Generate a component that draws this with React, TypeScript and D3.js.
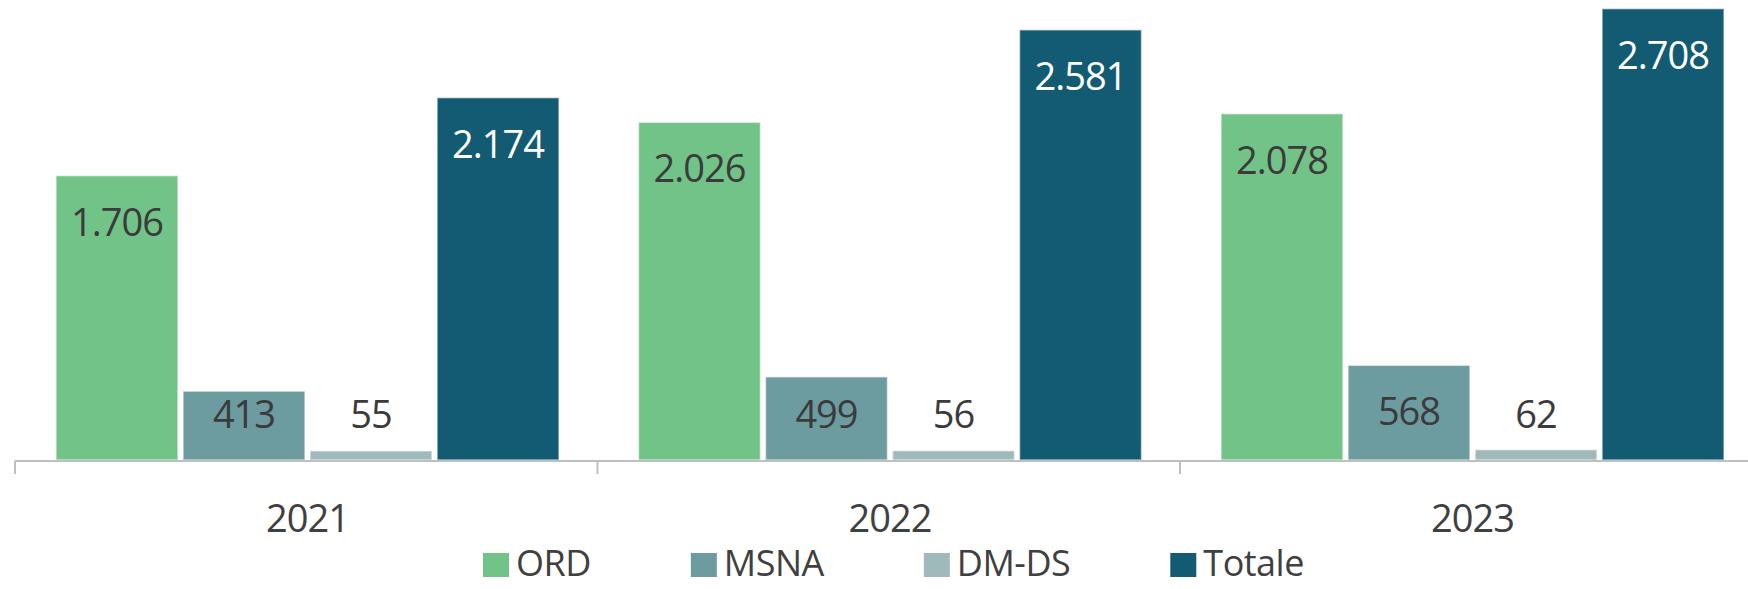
import React, { useEffect, useRef } from "react";
import * as d3 from "d3";

const years = ["2021", "2022", "2023"];
const seriesNames = ["ORD", "MSNA", "DM-DS", "Totale"];
const ordValues = [1706, 2026, 2078];
const msnaValues = [413, 499, 568];
const dmdsValues = [55, 56, 62];
const totaleValues = [2174, 2581, 2708];
const seriesColors = ["#72C387", "#6C9BA0", "#A0BABC", "#135B72"];
const labelColors = ["#3b3b3b", "#3b3b3b", "#3b3b3b", "#ffffff"];

const W = 1748;
const H = 589;
const FONT = "'Open Sans', sans-serif";
const TEXT = "#404040";

export default function App() {
  const ref = useRef<SVGSVGElement>(null);

  useEffect(() => {
    const svg = d3.select(ref.current);
    svg.selectAll("*").remove();

    const valuesBySeries = [ordValues, msnaValues, dmdsValues, totaleValues];
    const data = years.map((yr, i) => ({
      year: yr,
      values: seriesNames.map((s, j) => ({ key: s, j, v: valuesBySeries[j][i] })),
    }));

    const baseY = 460;
    const y = d3.scaleLinear().domain([0, 2760]).range([baseY, 0]);

    const step = 582.5;
    const x0 = d3
      .scaleBand<string>()
      .domain(years)
      .range([15, 15 + step * years.length])
      .padding(0);

    const x1 = d3
      .scaleBand<string>()
      .domain(seriesNames)
      .range([41, 544])
      .paddingInner(0.04)
      .paddingOuter(0);

    const g = svg.append("g");

    const groups = g
      .selectAll("g.grp")
      .data(data)
      .join("g")
      .attr("class", "grp")
      .attr("transform", (d) => `translate(${x0(d.year)},0)`);

    groups
      .selectAll("rect")
      .data((d) => d.values)
      .join("rect")
      .attr("x", (d) => x1(d.key)!)
      .attr("width", x1.bandwidth())
      .attr("y", (d) => y(d.v))
      .attr("height", (d) => baseY - y(d.v))
      .attr("fill", (d) => seriesColors[d.j])
      .attr("stroke", "#ffffff")
      .attr("stroke-opacity", 0.55)
      .attr("stroke-width", 1.5);

    groups
      .selectAll("text.val")
      .data((d) => d.values)
      .join("text")
      .attr("class", "val")
      .attr("x", (d) => x1(d.key)! + x1.bandwidth() / 2)
      .attr("y", (d) => Math.min(y(d.v) + 60, 428))
      .attr("text-anchor", "middle")
      .attr("font-family", FONT)
      .attr("font-size", 38)
      .attr("letter-spacing", -1)
      .attr("fill", (d) => labelColors[d.j])
      .text((d) => d3.format(",")(d.v).replace(/,/g, "."));

    // axis
    const axisColor = "#BFBFBF";
    g.append("line")
      .attr("x1", 15)
      .attr("x2", W)
      .attr("y1", baseY + 1)
      .attr("y2", baseY + 1)
      .attr("stroke", axisColor)
      .attr("stroke-width", 2);

    g.selectAll("line.tick")
      .data(years)
      .join("line")
      .attr("class", "tick")
      .attr("x1", (d) => x0(d)!)
      .attr("x2", (d) => x0(d)!)
      .attr("y1", baseY + 1)
      .attr("y2", baseY + 14)
      .attr("stroke", axisColor)
      .attr("stroke-width", 2);

    g.selectAll("text.year")
      .data(years)
      .join("text")
      .attr("class", "year")
      .attr("x", (d) => x0(d)! + 41 + 503 / 2)
      .attr("y", 532)
      .attr("text-anchor", "middle")
      .attr("font-family", FONT)
      .attr("font-size", 38)
      .attr("letter-spacing", -1)
      .attr("fill", TEXT)
      .text((d) => d);

    // legend
    const leg = svg.append("g");
    const items = leg
      .selectAll("g.item")
      .data(seriesNames)
      .join("g")
      .attr("class", "item");
    items
      .append("rect")
      .attr("y", 553)
      .attr("width", 26)
      .attr("height", 24)
      .attr("fill", (_d, i) => seriesColors[i]);
    const texts = items
      .append("text")
      .attr("x", 33)
      .attr("y", 576)
      .attr("font-family", FONT)
      .attr("font-size", 36)
      .attr("letter-spacing", -0.5)
      .attr("fill", TEXT)
      .text((d) => d);
    const widths: number[] = [];
    texts.each(function () {
      widths.push((this as SVGTextElement).getComputedTextLength());
    });
    const gap = 100;
    const itemW = widths.map((w) => 33 + w);
    let cx = 483;
    items.attr("transform", (_d, i) => {
      const t = `translate(${cx},0)`;
      cx += itemW[i] + gap;
      return t;
    });
  }, []);

  return (
    <svg
      ref={ref}
      width={W}
      height={H}
      style={{ position: "absolute", left: 0, top: 0, background: "#fff" }}
    />
  );
}
